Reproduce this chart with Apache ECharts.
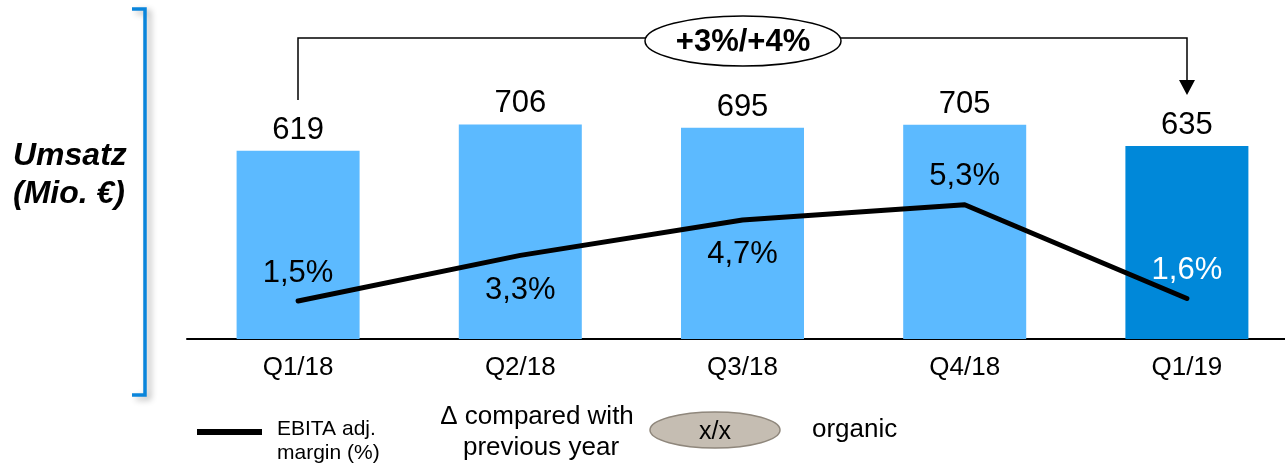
<!DOCTYPE html>
<html>
<head>
<meta charset="utf-8">
<script src="https://cdn.jsdelivr.net/npm/echarts@6/dist/echarts.min.js"></script>
<style>
html,body{margin:0;padding:0;background:#fff;overflow:hidden;}
#chart{width:1298px;height:468px;}
</style>
</head>
<body>
<div id="chart"></div>
<script>
// ---- data ----
const categories = ['Q1/18', 'Q2/18', 'Q3/18', 'Q4/18', 'Q1/19'];
const revenue = [619, 706, 695, 705, 635];            // Umsatz (Mio. €)
const ebitaMargin = [1.5, 3.3, 4.7, 5.3, 1.6];          // EBITA adj. margin (%)
const changeLabel = '+3%/+4%';
const yAxisTitle = ['Umsatz', '(Mio. €)'];
const legendLine = ['EBITA adj.', 'margin (%)'];
const legendDelta = ['Δ compared with', 'previous year'];
const legendBubble = 'x/x';
const legendOrganic = 'organic';

// ---- chart ----
const FONT = '"Liberation Sans", Arial, Helvetica, sans-serif';
const LIGHT = '#5CBAFF';
const DARK = '#0088D9';
const labelPos = ['top', 'bottom', 'bottom', 'top', 'top'];

const chart = echarts.init(document.getElementById('chart'), null, {renderer: 'canvas'});

const barData = revenue.map((v, i) => ({
  value: v,
  itemStyle: {color: i === revenue.length - 1 ? DARK : LIGHT}
}));

const lineData = ebitaMargin.map((v, i) => ({
  value: v,
  label: {
    position: labelPos[i],
    distance: labelPos[i] === 'top' ? 12 : 19,
    color: i === ebitaMargin.length - 1 ? '#ffffff' : '#000000'
  }
}));

const option = {
  animation: false,
  backgroundColor: '#ffffff',
  textStyle: {fontFamily: FONT},
  grid: {left: 187, right: 0, top: 35, bottom: 129, containLabel: false},
  xAxis: {
    type: 'category',
    data: categories,
    axisLine: {show: true, lineStyle: {color: '#000', width: 2}},
    axisTick: {show: false},
    axisLabel: {color: '#000', fontSize: 26, fontFamily: FONT, margin: 16}
  },
  yAxis: [
    {type: 'value', min: 0, max: 1000, show: false, splitLine: {show: false}},
    {type: 'value', min: 0, max: 12, show: false, splitLine: {show: false}}
  ],
  series: [
    {
      type: 'bar',
      data: barData,
      barWidth: 123,
      yAxisIndex: 0,
      label: {show: true, position: 'top', distance: 5, color: '#000', fontSize: 31, fontFamily: FONT}
    },
    {
      type: 'line',
      data: lineData,
      yAxisIndex: 1,
      symbol: 'circle',
      symbolSize: 1,
      itemStyle: {color: '#000'},
      lineStyle: {color: '#000', width: 5, cap: 'round', join: 'round'},
      z: 5,
      label: {
        show: true,
        fontSize: 31,
        fontFamily: FONT,
        formatter: p => p.value.toFixed(1).replace('.', ',') + '%'
      }
    }
  ],
  graphic: [
    // blue bracket on the left with shadow
    {type: 'polyline', shape: {points: [[132, 9], [145, 9], [145, 395], [132, 395]]},
     style: {stroke: '#0A85DB', lineWidth: 3.5, fill: null, shadowBlur: 6, shadowOffsetX: 4, shadowOffsetY: 3, shadowColor: 'rgba(0,0,0,0.3)'}},
    {type: 'text', left: 13, top: 140, style: {text: yAxisTitle[0], font: 'italic bold 32px ' + FONT, fill: '#000'}},
    {type: 'text', left: 13, top: 178, style: {text: yAxisTitle[1], font: 'italic bold 32px ' + FONT, fill: '#000'}},
    // connector from Q1/18 to Q1/19
    {type: 'polyline', shape: {points: [[298, 100], [298, 38], [1187, 38], [1187, 81]]},
     style: {stroke: '#000', lineWidth: 1.5, fill: null}, z: 10},
    {type: 'polygon', shape: {points: [[1179, 80], [1195, 80], [1187, 95]]}, style: {fill: '#000'}, z: 10},
    {type: 'ellipse', shape: {cx: 743, cy: 41, rx: 98, ry: 25}, style: {fill: '#fff', stroke: '#000', lineWidth: 1.5}, z: 11},
    {type: 'text', x: 743, y: 42, style: {text: changeLabel, font: 'bold 31px ' + FONT, fill: '#000', align: 'center', verticalAlign: 'middle'}, z: 12},
    // legend
    {type: 'line', shape: {x1: 197, y1: 432, x2: 262, y2: 432}, style: {stroke: '#000', lineWidth: 6}},
    {type: 'text', left: 277, top: 419, style: {text: legendLine[0], font: '21px ' + FONT, fill: '#000'}},
    {type: 'text', left: 277, top: 443, style: {text: legendLine[1], font: '21px ' + FONT, fill: '#000'}},
    {type: 'text', x: 537, y: 417, style: {text: legendDelta[0], font: '26px ' + FONT, fill: '#000', align: 'center', verticalAlign: 'middle'}},
    {type: 'text', x: 541, y: 448, style: {text: legendDelta[1], font: '26px ' + FONT, fill: '#000', align: 'center', verticalAlign: 'middle'}},
    {type: 'ellipse', shape: {cx: 715, cy: 430, rx: 65, ry: 18}, style: {fill: '#C5BDB2', stroke: '#8F877C', lineWidth: 1.5}},
    {type: 'text', x: 715, y: 432, style: {text: legendBubble, font: '25px ' + FONT, fill: '#000', align: 'center', verticalAlign: 'middle'}},
    {type: 'text', left: 812, top: 417, style: {text: legendOrganic, font: '26px ' + FONT, fill: '#000'}}
  ]
};

chart.setOption(option);
</script>
</body>
</html>
